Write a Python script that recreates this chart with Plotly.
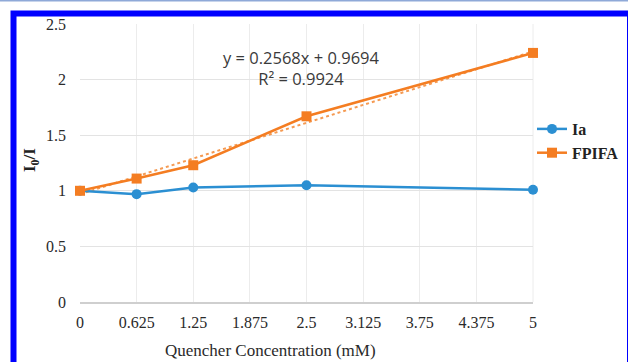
import plotly.graph_objects as go

# ---- data ----
x_labels = ["0", "0.625", "1.25", "1.875", "2.5", "3.125", "3.75", "4.375", "5"]
x_ticks = [0, 0.625, 1.25, 1.875, 2.5, 3.125, 3.75, 4.375, 5]
conc = [0, 0.625, 1.25, 2.5, 5]
ia_vals = [1.00, 0.97, 1.03, 1.05, 1.01]
fpifa_vals = [1.00, 1.11, 1.23, 1.67, 2.24]
trend_slope = 0.2568
trend_intercept = 0.9694
trend_x = [0, 5]
y_ticks = [0, 0.5, 1, 1.5, 2, 2.5]
y_labels = ["0", "0.5", "1", "1.5", "2", "2.5"]

BLUE = "#2b8fd2"
ORANGE = "#f47d22"

W, H = 628, 362
L, R, T, B = 80, 533, 24, 302  # plot area in pixels


def px(xp):
    return (xp - L) / (R - L)


def py(yp):
    return (B - yp) / (B - T)


fig = go.Figure()

fig.add_trace(go.Scatter(
    x=trend_x, y=[trend_slope * v + trend_intercept for v in trend_x],
    mode="lines", line=dict(color="#f59a52", width=2, dash="dot"),
    showlegend=False, hoverinfo="skip", cliponaxis=False))

fig.add_trace(go.Scatter(
    x=conc, y=ia_vals, mode="lines+markers", name="<b>Ia</b>",
    line=dict(color=BLUE, width=2.5),
    marker=dict(symbol="circle", size=10, color=BLUE),
    cliponaxis=False))

fig.add_trace(go.Scatter(
    x=conc, y=fpifa_vals, mode="lines+markers", name="<b>FPIFA</b>",
    line=dict(color=ORANGE, width=2.5),
    marker=dict(symbol="square", size=10, color=ORANGE),
    cliponaxis=False))

serif = "Liberation Serif"

fig.update_xaxes(
    range=[0, 5], tickvals=x_ticks, ticktext=x_labels,
    showgrid=True, gridcolor="#ececec", gridwidth=1,
    showline=True, linecolor="#cfcfcf", linewidth=1.5,
    ticks="", zeroline=False, mirror=False,
    tickfont=dict(family=serif, size=16, color="#2a2a2a"),
    ticklabelstandoff=5, automargin=False,
)
fig.update_yaxes(
    range=[0, 2.5], tickvals=y_ticks, ticktext=y_labels,
    showgrid=True, gridcolor="#e3e3e3", gridwidth=1,
    showline=False, zeroline=False, ticks="",
    tickfont=dict(family=serif, size=16, color="#2a2a2a"),
    ticklabelstandoff=13, automargin=False,
)

shapes = [
    # blue frame
    dict(type="rect", xref="paper", yref="paper",
         x0=px(13.5), x1=px(630), y0=py(372), y1=py(13.5),
         line=dict(color="#0000ff", width=6), fillcolor="rgba(0,0,0,0)", layer="above"),
    # thin light line at very top
    dict(type="line", xref="paper", yref="paper",
         x0=px(0), x1=px(628), y0=py(0.8), y1=py(0.8),
         line=dict(color="#8fa9d8", width=1.5), layer="above"),
    # plot area right faint border
    dict(type="line", xref="paper", yref="paper",
         x0=1, x1=1, y0=0, y1=1, line=dict(color="#ececec", width=1), layer="below"),
]

annotations = [
    dict(text="y = 0.2568x + 0.9694<br>R² = 0.9924", xref="paper", yref="paper",
         x=px(301), y=py(68), xanchor="center", yanchor="middle", showarrow=False,
         font=dict(family="Open Sans", size=16.5, color="#3a3a3a"), align="center"),
    dict(text="<b>I<sub>0</sub>/I</b>", xref="paper", yref="paper",
         x=px(31), y=py(160), xanchor="center", yanchor="middle", showarrow=False,
         textangle=-90, font=dict(family=serif, size=17, color="#222222")),
    dict(text="Quencher Concentration (mM)", xref="paper", yref="paper",
         x=px(270), y=py(350), xanchor="center", yanchor="middle", showarrow=False,
         font=dict(family=serif, size=17, color="#2a2a2a")),
]

fig.update_layout(
    width=W, height=H,
    margin=dict(l=L, r=W - R, t=T, b=H - B, pad=0, autoexpand=False),
    paper_bgcolor="white", plot_bgcolor="white",
    shapes=shapes, annotations=annotations,
    showlegend=True,
    legend=dict(x=px(532), y=py(141), xanchor="left", yanchor="middle",
                font=dict(family=serif, size=16, color="#222222"),
                bgcolor="rgba(0,0,0,0)", tracegroupgap=0, itemwidth=30),
)

fig.write_html(
    "out.html",
    config={"displayModeBar": False},
    post_script="document.body.style.margin='0';document.body.style.overflow='hidden';",
)
